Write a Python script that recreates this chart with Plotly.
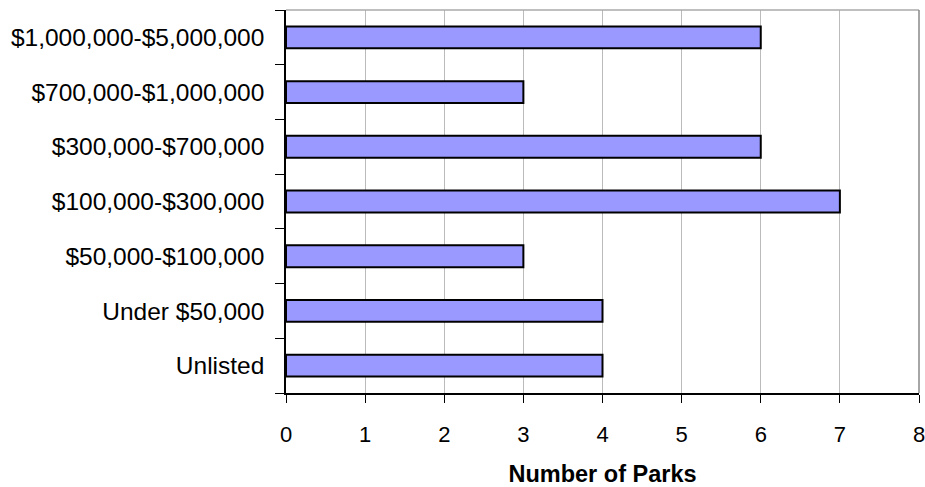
import plotly.graph_objects as go

categories = ["Unlisted", "Under $50,000", "$50,000-$100,000", "$100,000-$300,000",
              "$300,000-$700,000", "$700,000-$1,000,000", "$1,000,000-$5,000,000"]
parks = [4, 4, 3, 7, 6, 3, 6]
x_ticks = [0, 1, 2, 3, 4, 5, 6, 7, 8]

fig = go.Figure(go.Bar(
    y=categories, x=parks, orientation="h", width=0.4,
    marker=dict(color="#9999FF", line=dict(color="#000000", width=2)),
))

font = dict(family="Liberation Sans, Arial, sans-serif", size=24, color="#000000")

fig.update_layout(
    width=925, height=487,
    margin=dict(l=286, r=6, t=10, b=94),
    plot_bgcolor="#FFFFFF", paper_bgcolor="#FFFFFF",
    font=font, showlegend=False, bargap=0.6,
    xaxis=dict(
        range=[0, 8], tickvals=x_ticks, showgrid=True, gridcolor="#BBBBBB", gridwidth=1,
        showline=True, linecolor="#000000", linewidth=1.5,
        ticks="outside", ticklen=8, tickcolor="#000000", tickwidth=1,
        ticklabelstandoff=13, zeroline=False, ticklabeloverflow="allow",
        automargin=False, tickfont=dict(size=22),
        title=dict(text="<b>Number of Parks</b>", font=dict(size=23.5), standoff=22),
    ),
    yaxis=dict(
        categoryorder="array", categoryarray=categories, tickson="boundaries",
        showgrid=False, showline=True, linecolor="#000000", linewidth=1.5,
        ticks="outside", ticklen=9, tickcolor="#000000", tickwidth=1,
        ticklabelstandoff=15, range=[-0.5, 6.5], tickfont=dict(size=24.5),
        automargin=False,
    ),
    shapes=[
        dict(type="line", xref="paper", yref="paper", x0=0, x1=1, y0=1, y1=1,
             line=dict(color="#AAAAAA", width=1.5)),
        dict(type="line", xref="paper", yref="paper", x0=1, x1=1, y0=0, y1=1,
             line=dict(color="#888888", width=1.5)),
    ],
)

fig.write_html("out.html")
